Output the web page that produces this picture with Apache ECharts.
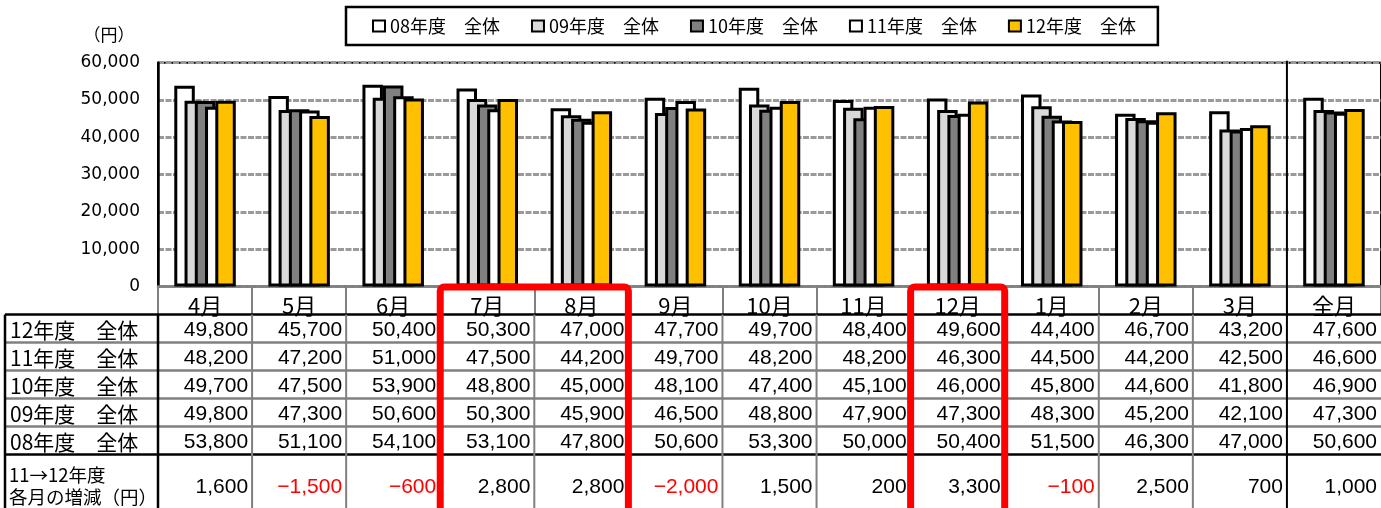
<!DOCTYPE html>
<html>
<head>
<meta charset="utf-8">
<script src="https://cdn.jsdelivr.net/npm/echarts@6/dist/echarts.min.js"></script>
<style>
    html, body {margin: 0; padding: 0; background: #fff}
    #chart {width: 1381px; height: 508px}
</style>
</head>
<body>
<div id="chart"></div>
<script>
const months = ['4月', '5月', '6月', '7月', '8月', '9月', '10月', '11月', '12月', '1月', '2月', '3月', '全月']

const fy08 = [53800, 51100, 54100, 53100, 47800, 50600, 53300, 50000, 50400, 51500, 46300, 47000, 50600]
const fy09 = [49800, 47300, 50600, 50300, 45900, 46500, 48800, 47900, 47300, 48300, 45200, 42100, 47300]
const fy10 = [49700, 47500, 53900, 48800, 45000, 48100, 47400, 45100, 46000, 45800, 44600, 41800, 46900]
const fy11 = [48200, 47200, 51000, 47500, 44200, 49700, 48200, 48200, 46300, 44500, 44200, 42500, 46600]
const fy12 = [49800, 45700, 50400, 50300, 47000, 47700, 49700, 48400, 49600, 44400, 46700, 43200, 47600]

// 11→12年度 各月の増減（円）
const diff1112 = [1600, -1500, -600, 2800, 2800, -2000, 1500, 200, 3300, -100, 2500, 700, 1000]

const yMin = 0
const yMax = 60000
const yStep = 10000

const seriesNames = ['08年度　全体', '09年度　全体', '10年度　全体', '11年度　全体', '12年度　全体']
const seriesColors = ['#ffffff', '#d9d9d9', '#808080', '#ffffff', '#ffc000']
const seriesData = [fy08, fy09, fy10, fy11, fy12]

// table rows, top to bottom
const tableRows = [
    {label: '12年度　全体', values: fy12},
    {label: '11年度　全体', values: fy11},
    {label: '10年度　全体', values: fy10},
    {label: '09年度　全体', values: fy09},
    {label: '08年度　全体', values: fy08},
]
const diffLabel = ['11→12年度', '各月の増減（円）']

// red frames: [first column, last column]
const highlights = [[3, 4], [8, 8]]

const JP = '"Noto Sans CJK JP", "Noto Sans", sans-serif'
const NUM = '"Liberation Sans", Arial, sans-serif'

function fmt(n) {
    let s = Math.abs(n).toLocaleString('en-US')
    return n < 0 ? '\u2212' + s : s
}

let chart = echarts.init(document.getElementById('chart'))

chart.setOption({
    animation: false,
    textStyle: {fontFamily: JP},
    legend: {
        data: seriesNames,
        selectedMode: false,
        left: 346,
        top: 7,
        padding: [10, 22, 10, 26],
        itemGap: 31,
        itemWidth: 12,
        itemHeight: 11,
        icon: 'rect',
        borderColor: '#000',
        borderWidth: 2.5,
        textStyle: {fontSize: 18, color: '#000', fontFamily: JP},
    },
    grid: {
        left: 158,
        top: 62.7,
        width: 1228.5,
        height: 223.8,
        show: true,
        borderColor: '#000',
        borderWidth: 2,
    },
    xAxis: {
        type: 'category',
        data: months,
        axisLine: {lineStyle: {color: '#808080', width: 2.5}},
        axisTick: {show: true, length: 28, interval: 0, lineStyle: {color: '#808080', width: 2}},
        axisLabel: {interval: 0, margin: 8, fontSize: 22, color: '#000', fontFamily: JP},
        splitLine: {show: false},
    },
    yAxis: {
        type: 'value',
        min: yMin,
        max: yMax,
        interval: yStep,
        axisLine: {show: true, lineStyle: {color: '#000', width: 2.5}},
        axisTick: {show: false},
        axisLabel: {
            margin: 18,
            fontSize: 17,
            color: '#000',
            fontFamily: '"DejaVu Sans", sans-serif',
            formatter: v => v.toLocaleString('en-US'),
        },
        splitLine: {lineStyle: {color: '#9a9a9a', width: 3, type: [6, 1.5]}},
    },
    series: seriesNames.map((name, i) => ({
        name: name,
        type: 'bar',
        data: seriesData[i],
        barWidth: 20.5,
        barGap: '-50%',
        itemStyle: {color: seriesColors[i], borderColor: '#000', borderWidth: 3},
    })),
})

function buildTable() {
    let c0 = chart.convertToPixel({xAxisIndex: 0}, 0)
    let c1 = chart.convertToPixel({xAxisIndex: 0}, 1)
    let colW = c1 - c0
    let left = c0 - colW / 2
    let plotTop = chart.convertToPixel({yAxisIndex: 0}, yMax)
    let plotBottom = chart.convertToPixel({yAxisIndex: 0}, yMin)
    let edge = (i) => left + i * colW

    let headTop = plotBottom
    let bodyTop = headTop + 28
    let rowH = 28
    let diffTop = bodyTop + rowH * tableRows.length
    let bottom = 540
    let tableLeft = 5
    let right = 1381

    let g = []
    let line = (x1, y1, x2, y2, color, w) => g.push({
        type: 'line', silent: true, z: 50,
        shape: {x1, y1, x2, y2},
        style: {stroke: color, lineWidth: w},
    })
    let text = (str, x, y, align, font, color) => g.push({
        type: 'text', silent: true, z: 60,
        style: {text: str, x, y, textAlign: align, textVerticalAlign: 'middle', font, fill: color || '#000'},
    })

    // horizontal rules
    for (let r = 1; r < tableRows.length; r++) {
        line(tableLeft, bodyTop + r * rowH, right, bodyTop + r * rowH, '#808080', 2.5)
    }
    line(tableLeft, bodyTop, right, bodyTop, '#000', 2.5)
    line(tableLeft, diffTop, right, diffTop, '#000', 2.5)

    // vertical rules
    for (let i = 1; i < months.length - 1; i++) {
        line(edge(i), bodyTop, edge(i), bottom, '#808080', 2)
    }
    line(tableLeft, bodyTop, tableLeft, bottom, '#000', 2.5)
    line(left, bodyTop, left, bottom, '#000', 2.5)
    let total = edge(months.length - 1)
    line(total, plotTop - 2, total, bottom, '#000', 2)

    // rows
    tableRows.forEach((row, r) => {
        let cy = bodyTop + r * rowH + rowH / 2 + 1.5
        text(row.label, tableLeft + 5, cy, 'left', '21px ' + JP)
        row.values.forEach((v, i) => {
            text(fmt(v), edge(i + 1) - 4, cy, 'right', '21px ' + NUM)
        })
    })

    text(diffLabel[0], tableLeft + 4, 475, 'left', '18.5px ' + JP)
    text(diffLabel[1], tableLeft + 4, 497, 'left', '18.5px ' + JP)
    diff1112.forEach((v, i) => {
        text(fmt(v), edge(i + 1) - 4, 487, 'right', '21px ' + NUM, v < 0 ? '#ff0000' : '#000')
    })

    // y unit
    text('（円）', 109, 35, 'center', '17px ' + JP)

    // red frames
    highlights.forEach(([a, b]) => {
        g.push({
            type: 'rect', silent: true, z: 80,
            shape: {x: edge(a), y: headTop + 0.5, width: edge(b + 1) - edge(a), height: bottom - headTop, r: 4},
            style: {fill: 'none', stroke: '#ff0000', lineWidth: 7},
        })
    })
    return g
}

chart.setOption({graphic: buildTable()})
</script>
</body>
</html>
